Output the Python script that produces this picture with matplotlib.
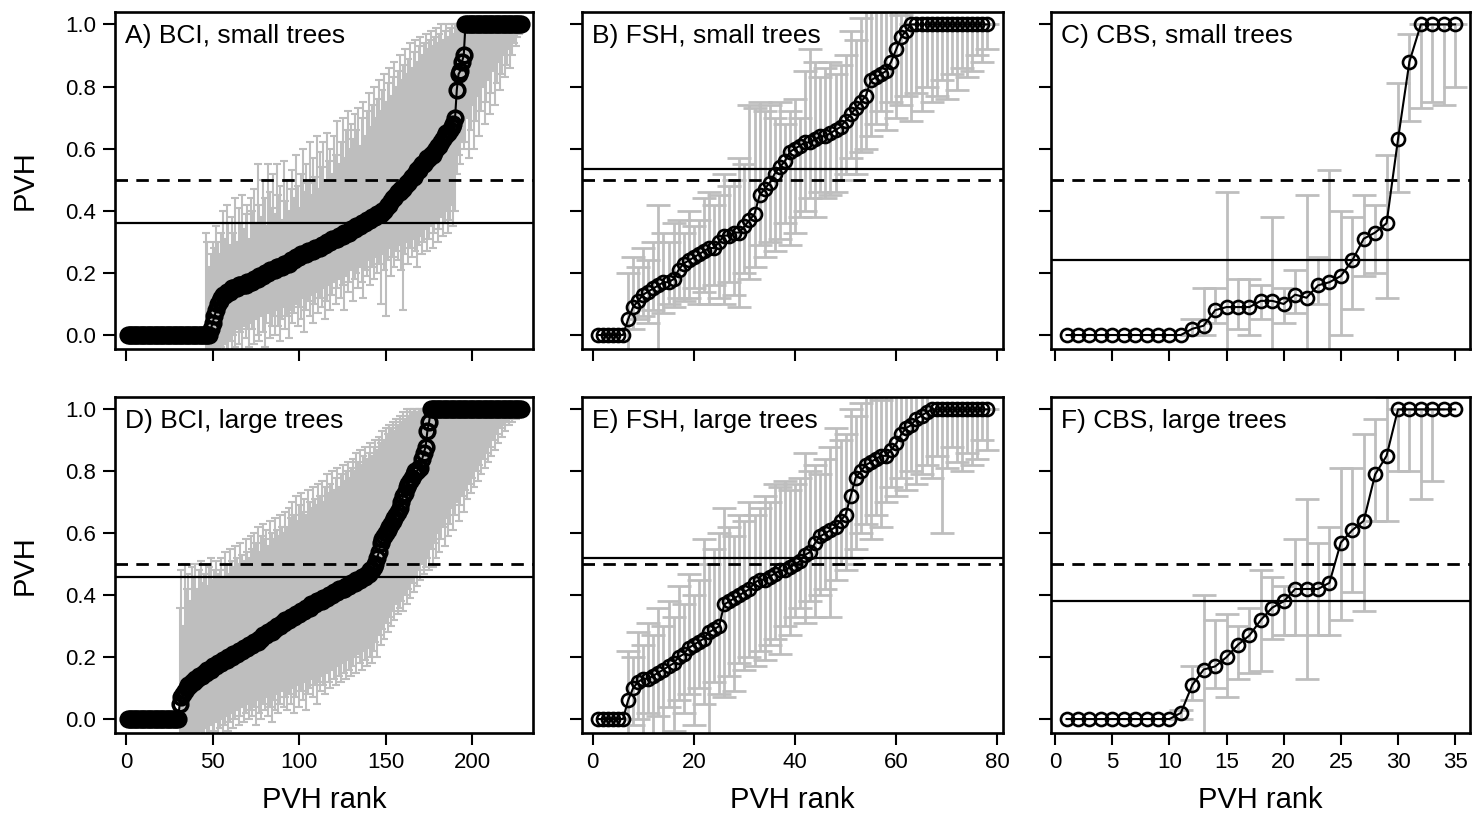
import matplotlib
matplotlib.use("Agg")
import matplotlib.pyplot as plt
import numpy as np

plt.rcParams['font.family'] = ['Liberation Sans', 'DejaVu Sans']

# ---------------- data ----------------
titles = ["A) BCI, small trees", "B) FSH, small trees", "C) CBS, small trees",
          "D) BCI, large trees", "E) FSH, large trees", "F) CBS, large trees"]
solid_lines = [0.36, 0.535, 0.24, 0.46, 0.52, 0.38]
dashed_lines = [0.5, 0.5, 0.5, 0.5, 0.5, 0.5]
x_ticks_bci = [0, 50, 100, 150, 200]
x_ticks_fsh = [0, 20, 40, 60, 80]
x_ticks_cbs = [0, 5, 10, 15, 20, 25, 30, 35]
y_ticks = [0.0, 0.2, 0.4, 0.6, 0.8, 1.0]

A_val = [
    0, 0, 0, 0, 0, 0, 0, 0, 0, 0, 0, 0,
    0, 0, 0, 0, 0, 0, 0, 0, 0, 0, 0, 0,
    0, 0, 0, 0, 0, 0, 0, 0, 0, 0, 0, 0,
    0, 0, 0, 0, 0, 0, 0, 0, 0, 0, 0, 0,
    0.02, 0.04, 0.06, 0.08, 0.10, 0.11, 0.12, 0.13, 0.13, 0.14, 0.14, 0.14,
    0.15, 0.15, 0.15, 0.15, 0.16, 0.16, 0.16, 0.16, 0.16, 0.17, 0.17, 0.17,
    0.17, 0.18, 0.18, 0.18, 0.19, 0.19, 0.19, 0.20, 0.20, 0.20, 0.21, 0.21, 0.21, 0.21, 0.22, 0.22, 0.22, 0.22, 0.23, 0.23,
    0.23, 0.23, 0.24, 0.24, 0.24, 0.25, 0.25, 0.25, 0.26, 0.26, 0.26, 0.26, 0.27, 0.27, 0.27, 0.27, 0.28, 0.28, 0.28,
    0.28, 0.29, 0.29, 0.29, 0.30, 0.30, 0.30, 0.31, 0.31, 0.31, 0.31, 0.32, 0.32, 0.32, 0.33, 0.33, 0.33, 0.33, 0.34,
    0.34, 0.34, 0.35, 0.35, 0.35, 0.36, 0.36, 0.36, 0.37, 0.37, 0.37, 0.38, 0.38, 0.38, 0.39, 0.39,
    0.39, 0.40, 0.40, 0.41, 0.42, 0.42, 0.43, 0.44, 0.44, 0.45, 0.46, 0.46, 0.47,
    0.47, 0.48, 0.49, 0.49, 0.50, 0.51, 0.51, 0.52, 0.53, 0.53,
    0.54, 0.55, 0.55, 0.56, 0.57, 0.57, 0.58,
    0.58, 0.59, 0.60, 0.61, 0.61, 0.62, 0.63, 0.64, 0.65, 0.65,
    0.66, 0.67, 0.68, 0.70,
    0.79, 0.84, 0.85, 0.88, 0.90,
    1, 1, 1, 1, 1, 1, 1, 1, 1, 1, 1,
    1, 1, 1, 1, 1, 1, 1, 1, 1, 1, 1,
    1, 1, 1, 1, 1, 1, 1, 1, 1, 1, 1,
]
A_hi = [
    0, 0, 0, 0, 0, 0, 0, 0, 0, 0, 0, 0, 0, 0, 0,
    0, 0, 0, 0, 0, 0, 0, 0, 0, 0, 0, 0, 0, 0, 0,
    0, 0, 0, 0, 0, 0, 0, 0, 0, 0, 0, 0, 0, 0, 0,
    0.33, 0.30, 0.22, 0.26, 0.30,
    0.28, 0.35, 0.30, 0.26, 0.33, 0.40, 0.31, 0.42, 0.36, 0.29,
    0.38, 0.33, 0.44, 0.30, 0.41, 0.36, 0.45, 0.34, 0.39, 0.42, 0.31, 0.44,
    0.40, 0.47, 0.36, 0.55, 0.42, 0.38, 0.50, 0.44, 0.35, 0.55, 0.46, 0.41,
    0.52, 0.39, 0.55, 0.45, 0.48, 0.37, 0.56, 0.43, 0.50, 0.40, 0.47, 0.53,
    0.44, 0.58, 0.48, 0.41, 0.52, 0.60, 0.46, 0.55, 0.49, 0.62, 0.45, 0.57,
    0.51, 0.64, 0.47, 0.59, 0.54, 0.62, 0.50, 0.65, 0.56, 0.60, 0.52, 0.64,
    0.58, 0.69, 0.55, 0.62, 0.70, 0.57, 0.66, 0.72, 0.60, 0.68, 0.63, 0.71,
    0.66, 0.73, 0.61, 0.70, 0.75, 0.64, 0.72, 0.78, 0.67, 0.74, 0.80, 0.70,
    0.76, 0.82, 0.72, 0.79, 0.84, 0.75, 0.81, 0.86, 0.77, 0.83, 0.88, 0.80,
    0.85, 0.90, 0.82, 0.87, 0.92, 0.84, 0.89, 0.94, 0.86, 0.91, 0.95, 0.88,
    0.93, 0.96, 0.90, 0.94, 0.97, 0.92, 0.95, 0.98, 0.93, 0.96, 0.99, 0.94,
    0.97, 1.00, 0.95, 0.98, 1.00, 0.96, 0.99, 1.00, 0.97, 1.00,
    1, 1, 1, 1, 1,
    1, 1, 1, 1, 1, 1, 1, 1, 1, 1, 1,
    1, 1, 1, 1, 1, 1, 1, 1, 1, 1, 1,
    1, 1, 1, 1, 1, 1, 1, 1, 1, 1, 1,
]
A_lo = [
    0, 0, 0, 0, 0, 0, 0, 0, 0, 0, 0, 0, 0, 0, 0,
    0, 0, 0, 0, 0, 0, 0, 0, 0, 0, 0, 0, 0, 0, 0,
    0, 0, 0, 0, 0, 0, 0, 0, 0, 0, 0, 0, 0, 0, 0,
    -0.10, -0.08, -0.12, -0.09, -0.10,
    -0.08, -0.05, -0.10, -0.06, -0.04, -0.09, -0.03, -0.07, -0.05, -0.02,
    -0.06, 0.00, -0.04, 0.02, -0.03, 0.01, -0.05, 0.03, -0.01, 0.02, -0.04, 0.04,
    0.02, -0.03, 0.05, 0.00, -0.02, 0.06, 0.01, -0.04, 0.04, 0.07, -0.01, 0.03,
    0.06, 0.00, 0.08, 0.03, -0.02, 0.05, 0.09, 0.02, 0.06, -0.01, 0.08, 0.04,
    0.07, 0.10, 0.03, 0.09, 0.05, 0.12, 0.01, 0.08, 0.11, 0.06, 0.13, 0.04,
    0.10, 0.14, 0.07, 0.12, 0.09, 0.15, 0.05, 0.11, 0.16, 0.08, 0.13, 0.17,
    0.10, 0.15, 0.18, 0.12, 0.16, 0.08, 0.19, 0.14, 0.17, 0.21, 0.11, 0.18,
    0.20, 0.15, 0.22, 0.17, 0.12, 0.21, 0.19, 0.24, 0.16, 0.22, 0.18, 0.25,
    0.20, 0.23, 0.10, 0.26, 0.21, 0.06, 0.24, 0.28, 0.19, 0.25, 0.22, 0.27,
    0.24, 0.29, 0.21, 0.08, 0.26, 0.30, 0.23, 0.28, 0.25, 0.31, 0.27, 0.22,
    0.29, 0.32, 0.26, 0.30, 0.34, 0.27, 0.31, 0.35, 0.28, 0.33, 0.36, 0.30,
    0.34, 0.38, 0.32, 0.36, 0.40, 0.33, 0.37, 0.42, 0.35, 0.40,
    0.52, 0.58, 0.55, 0.62, 0.60,
    0.62, 0.70, 0.57, 0.66, 0.74, 0.60, 0.69, 0.77, 0.64, 0.72, 0.80,
    0.68, 0.75, 0.82, 0.71, 0.78, 0.85, 0.74, 0.81, 0.88, 0.79, 0.84,
    0.90, 0.83, 0.87, 0.92, 0.86, 0.90, 0.94, 0.93, 0.96, 0.97, 0.99,
]

D_val = [
    0, 0, 0, 0, 0, 0, 0, 0, 0, 0, 0, 0, 0, 0, 0,
    0, 0, 0, 0, 0, 0, 0, 0, 0, 0, 0, 0, 0, 0, 0,
    0.05, 0.07, 0.08, 0.09, 0.10, 0.11, 0.11, 0.12,
    0.12, 0.13, 0.13, 0.14, 0.14, 0.14, 0.15, 0.15, 0.16, 0.16, 0.16, 0.17, 0.17, 0.17, 0.18,
    0.18, 0.18, 0.19, 0.19, 0.19, 0.20, 0.20, 0.20, 0.21, 0.21, 0.21, 0.22, 0.22, 0.22, 0.23, 0.23, 0.23, 0.24, 0.24,
    0.24, 0.25, 0.25, 0.25, 0.26, 0.26, 0.27, 0.27, 0.27, 0.28, 0.28, 0.28, 0.29, 0.29, 0.30, 0.30, 0.30, 0.31, 0.31, 0.32,
    0.32, 0.32, 0.33, 0.33, 0.33, 0.34, 0.34, 0.34, 0.35, 0.35, 0.35, 0.36, 0.36, 0.36, 0.37, 0.37, 0.37, 0.38, 0.38,
    0.38, 0.38, 0.39, 0.39, 0.39, 0.40, 0.40, 0.40, 0.41, 0.41, 0.41, 0.42, 0.42, 0.42, 0.42, 0.43, 0.43, 0.43, 0.44,
    0.44, 0.44, 0.45, 0.45, 0.45, 0.46, 0.46, 0.46, 0.47, 0.47, 0.48, 0.48,
    0.49, 0.50, 0.52, 0.54, 0.57, 0.58, 0.59, 0.60, 0.61, 0.62,
    0.63, 0.64, 0.65, 0.66, 0.67, 0.68, 0.70, 0.72, 0.73, 0.75, 0.76,
    0.77, 0.78, 0.79, 0.80, 0.80, 0.81, 0.81, 0.84, 0.86, 0.88, 0.93, 0.96,
    1, 1, 1, 1, 1, 1, 1, 1, 1, 1, 1, 1, 1, 1, 1, 1, 1, 1,
    1, 1, 1, 1, 1, 1, 1, 1, 1, 1, 1, 1, 1, 1, 1, 1, 1, 1,
    1, 1, 1, 1, 1, 1, 1, 1, 1, 1, 1, 1, 1, 1, 1, 1, 1,
]
D_hi = [
    0, 0, 0, 0, 0, 0, 0, 0, 0, 0, 0, 0, 0, 0, 0,
    0, 0, 0, 0, 0, 0, 0, 0, 0, 0, 0, 0, 0, 0, 0,
    0.36, 0.48, 0.30, 0.50, 0.42, 0.47, 0.38, 0.49,
    0.46, 0.50, 0.42, 0.48, 0.51, 0.44, 0.47, 0.50, 0.43, 0.49, 0.52, 0.45, 0.48, 0.51, 0.47,
    0.48, 0.52, 0.46, 0.54, 0.50, 0.47, 0.55, 0.51, 0.49, 0.56, 0.52, 0.50, 0.57, 0.53, 0.51, 0.58, 0.54, 0.52, 0.59,
    0.55, 0.60, 0.57, 0.62, 0.54, 0.59, 0.63, 0.58, 0.61, 0.56, 0.64, 0.60, 0.58, 0.65, 0.61, 0.59, 0.66, 0.62, 0.60, 0.67,
    0.62, 0.68, 0.65, 0.70, 0.66, 0.72, 0.64, 0.69, 0.73, 0.67, 0.71, 0.66, 0.74, 0.70, 0.68, 0.75, 0.71, 0.69, 0.76,
    0.72, 0.77, 0.70, 0.75, 0.79, 0.73, 0.76, 0.80, 0.74, 0.78, 0.81, 0.75, 0.79, 0.82, 0.77, 0.80, 0.83, 0.78, 0.81,
    0.84, 0.80, 0.86, 0.83, 0.87, 0.82, 0.85, 0.88, 0.84, 0.86, 0.89, 0.85,
    0.88, 0.90, 0.87, 0.91, 0.89, 0.93, 0.90, 0.94, 0.92, 0.95,
    0.94, 0.96, 0.93, 0.97, 0.95, 0.98, 0.96, 0.99, 0.97, 1.00, 0.98,
    1.00, 0.99, 1.00, 1.00, 0.99, 1.00, 1.00, 1.00, 1.00, 1.00, 1.00, 1.00,
    1, 1, 1, 1, 1, 1, 1, 1, 1, 1, 1, 1, 1, 1, 1, 1, 1, 1,
    1, 1, 1, 1, 1, 1, 1, 1, 1, 1, 1, 1, 1, 1, 1, 1, 1, 1,
    1, 1, 1, 1, 1, 1, 1, 1, 1, 1, 1, 1, 1, 1, 1, 1, 1,
]
D_lo = [
    0, 0, 0, 0, 0, 0, 0, 0, 0, 0, 0, 0, 0, 0, 0,
    0, 0, 0, 0, 0, 0, 0, 0, 0, 0, 0, 0, 0, 0, 0,
    -0.10, -0.08, -0.12, -0.06, -0.09, -0.11, -0.07, -0.10,
    -0.08, -0.05, -0.10, -0.07, -0.04, -0.09, -0.06, -0.03, -0.08, -0.05, -0.02, -0.07, -0.04, -0.01, -0.06,
    -0.03, 0.00, -0.05, -0.02, 0.01, -0.04, -0.01, 0.02, -0.03, 0.00, 0.03, -0.02, 0.01, 0.04, -0.01, 0.02, 0.05, 0.00, 0.03,
    0.01, 0.04, -0.02, 0.06, 0.02, 0.00, 0.05, 0.03, 0.07, 0.01, 0.04, -0.01, 0.06, 0.03, 0.08, 0.02, 0.05, 0.09, 0.04, 0.07,
    0.03, 0.08, 0.05, 0.10, 0.02, 0.07, 0.11, 0.04, 0.09, 0.06, 0.12, 0.03, 0.08, 0.10, 0.13, 0.07, 0.11, 0.05, 0.12,
    0.09, 0.14, 0.11, 0.08, 0.15, 0.12, 0.10, 0.16, 0.13, 0.11, 0.17, 0.14, 0.12, 0.18, 0.15, 0.13, 0.19, 0.16, 0.14,
    0.17, 0.20, 0.15, 0.21, 0.18, 0.16, 0.22, 0.19, 0.17, 0.23, 0.20, 0.18,
    0.22, 0.25, 0.20, 0.27, 0.24, 0.29, 0.26, 0.31, 0.28, 0.33,
    0.30, 0.35, 0.32, 0.37, 0.34, 0.36, 0.38, 0.35, 0.40, 0.37, 0.42,
    0.39, 0.44, 0.41, 0.46, 0.43, 0.48, 0.45, 0.50, 0.47, 0.49, 0.52, 0.48,
    0.55, 0.49, 0.57, 0.52, 0.60, 0.54, 0.58, 0.62, 0.56, 0.65,
    0.59, 0.63, 0.68, 0.61, 0.66, 0.70, 0.64, 0.69, 0.72, 0.67,
    0.74, 0.71, 0.76, 0.73, 0.78, 0.75, 0.80, 0.77, 0.82, 0.79,
    0.84, 0.81, 0.86, 0.83, 0.88, 0.85, 0.90, 0.87, 0.92, 0.89,
    0.94, 0.91, 0.95, 0.93, 0.96, 0.95, 0.97, 0.96, 0.98, 0.97,
    0.99, 0.98, 0.99,
]

B_val = [
    0, 0, 0, 0, 0, 0,
    0.05, 0.09, 0.11, 0.13, 0.14, 0.15, 0.16, 0.17, 0.17, 0.18,
    0.21, 0.23, 0.24, 0.25, 0.26, 0.27, 0.28, 0.28, 0.30, 0.32,
    0.32, 0.33, 0.33, 0.35, 0.37, 0.39, 0.45, 0.47, 0.49, 0.52,
    0.54, 0.56, 0.59, 0.60, 0.61, 0.62, 0.62, 0.63, 0.64, 0.64,
    0.65, 0.66, 0.67, 0.69, 0.71, 0.73, 0.75, 0.77, 0.82, 0.83,
    0.84, 0.85, 0.88, 0.92, 0.96, 0.98,
    1, 1, 1, 1, 1, 1, 1, 1, 1, 1, 1, 1, 1, 1, 1, 1,
]
B_hi = [
    0, 0, 0, 0, 0, 0,
    0.20, 0.25, 0.22, 0.28, 0.24, 0.30, 0.42, 0.33, 0.30, 0.36,
    0.37, 0.33, 0.40, 0.35, 0.37, 0.44, 0.46, 0.42, 0.45, 0.52,
    0.48, 0.50, 0.57, 0.55, 0.74, 0.73, 0.75, 0.72, 0.74, 0.70,
    0.75, 0.68, 0.72, 0.76, 0.70, 0.85, 0.92, 0.88, 0.83, 0.86,
    0.88, 0.84, 0.87, 0.90, 0.98, 0.95, 1.02, 1.05, 1.06, 1.04,
    1.06, 1.05, 1.06, 1.05, 1.03, 1.05,
    1, 1, 1, 1, 1, 1, 1, 1, 1, 1, 1, 1, 1, 1, 1, 1,
]
B_lo = [
    0, 0, 0, 0, 0, 0,
    -0.05, 0.02, 0.05, 0.06, 0.04, 0.08, -0.06, 0.07, 0.10, 0.09,
    0.12, 0.11, 0.12, 0.15, 0.10, 0.14, 0.10, 0.16, 0.12, 0.10,
    0.17, 0.13, 0.09, 0.20, 0.18, 0.22, 0.29, 0.25, 0.30, 0.27,
    0.31, 0.36, 0.29, 0.33, 0.38, 0.40, 0.44, 0.38, 0.46, 0.44,
    0.45, 0.46, 0.50, 0.52, 0.57, 0.52, 0.59, 0.60, 0.64, 0.68,
    0.72, 0.66, 0.75, 0.70, 0.74, 0.77,
    0.69, 0.78, 0.72, 0.80, 0.75, 0.77, 0.82, 0.76, 0.84, 0.79, 0.86, 0.83, 0.85, 0.90, 0.88, 0.92,
]

C_val = [0, 0, 0, 0, 0, 0, 0, 0, 0, 0, 0,
         0.02, 0.03, 0.08, 0.09, 0.09, 0.09, 0.11, 0.11, 0.10, 0.13,
         0.12, 0.16, 0.17, 0.19, 0.24, 0.31, 0.33, 0.36, 0.63, 0.88,
         1, 1, 1, 1]
C_hi = [0, 0, 0, 0, 0, 0, 0, 0, 0, 0, 0,
        0.05, 0.15, 0.15, 0.46, 0.18, 0.18, 0.16, 0.38, 0.15, 0.21,
        0.45, 0.25, 0.53, 0.40, 0.38, 0.45, 0.42, 0.58, 0.81, 0.97,
        1, 1, 1, 1]
C_lo = [0, 0, 0, 0, 0, 0, 0, 0, 0, 0, 0,
        0.00, 0.00, 0.04, -0.10, 0.02, 0.00, 0.05, -0.10, 0.04, 0.07,
        -0.10, 0.10, -0.10, 0.00, 0.085, 0.19, 0.20, 0.12, 0.46, 0.69,
        0.73, 0.75, 0.74, 0.80]

E_val = [
    0, 0, 0, 0, 0, 0,
    0.06, 0.10, 0.12, 0.13, 0.13, 0.14, 0.15, 0.16, 0.17, 0.18,
    0.20, 0.21, 0.23, 0.24, 0.25, 0.26, 0.28, 0.29, 0.30, 0.37,
    0.38, 0.39, 0.40, 0.41, 0.42, 0.44, 0.45, 0.45, 0.46, 0.47,
    0.48, 0.48, 0.49, 0.50, 0.51, 0.53, 0.54, 0.57, 0.59, 0.60,
    0.61, 0.62, 0.64, 0.66, 0.72, 0.78, 0.80, 0.82, 0.83, 0.84,
    0.85, 0.85, 0.87, 0.89, 0.92, 0.94, 0.95, 0.97, 0.98, 0.99,
    1, 1, 1, 1, 1, 1, 1, 1, 1, 1, 1, 1,
]
E_hi = [
    0, 0, 0, 0, 0, 0,
    0.22, 0.20, 0.28, 0.24, 0.31, 0.27, 0.36, 0.30, 0.38, 0.33,
    0.43, 0.37, 0.47, 0.40, 0.45, 0.58, 0.50, 0.55, 0.60, 0.68,
    0.62, 0.59, 0.66, 0.64, 0.70, 0.66, 0.68, 0.72, 0.70, 0.76,
    0.75, 0.77, 0.74, 0.76, 0.78, 0.86, 0.80, 0.82, 0.79, 0.84,
    0.88, 0.94, 0.90, 0.92, 1.00, 0.98, 1.02, 1.05, 1.04, 1.05,
    1.03, 1.05, 1.06, 1.05, 1.06, 1.05, 1.04, 1.05, 1.06, 1.05,
    1, 1, 1, 1, 1, 1, 1, 1, 1, 1, 1, 1,
]
E_lo = [
    0, 0, 0, 0, 0, 0,
    -0.08, -0.02, 0.00, -0.06, 0.02, -0.05, 0.01, -0.08, 0.04, -0.04,
    0.06, 0.02, 0.08, -0.02, 0.10, 0.05, -0.06, 0.12, 0.08, 0.07,
    0.14, 0.09, 0.18, 0.16, 0.20, 0.17, 0.22, 0.19, 0.24, 0.26,
    0.21, 0.30, 0.27, 0.33, 0.36, 0.31, 0.38, 0.33, 0.40, 0.42,
    0.33, 0.45, 0.50, 0.48, 0.52, 0.55, 0.60, 0.63, 0.58, 0.66,
    0.62, 0.70, 0.75, 0.72, 0.78, 0.74, 0.80, 0.76, 0.79, 0.82,
    0.78, 0.85, 0.60, 0.81, 0.88, 0.83, 0.80, 0.86, 0.82, 0.84, 0.90, 0.87,
]

F_val = [0, 0, 0, 0, 0, 0, 0, 0, 0, 0,
         0.02, 0.11, 0.16, 0.17, 0.20, 0.24, 0.27, 0.32, 0.36, 0.38,
         0.42, 0.42, 0.42, 0.44, 0.57, 0.61, 0.64, 0.79, 0.85,
         1, 1, 1, 1, 1, 1]
F_hi = [0, 0, 0, 0, 0, 0, 0, 0, 0, 0,
        0.03, 0.17, 0.40, 0.32, 0.34, 0.30, 0.36, 0.48, 0.46, 0.43,
        0.58, 0.71, 0.57, 0.62, 0.81, 0.81, 0.92, 0.97, 1.04,
        1, 1, 1, 1, 1, 1]
F_lo = [0, 0, 0, 0, 0, 0, 0, 0, 0, 0,
        0.00, 0.06, -0.10, 0.10, 0.07, 0.13, 0.15, 0.155, 0.26, 0.27,
        0.27, 0.13, 0.27, 0.27, 0.32, 0.41, 0.35, 0.64, 0.64,
        0.80, 0.80, 0.71, 0.77, 1.0, 1.0]

series = [(A_val, A_lo, A_hi), (B_val, B_lo, B_hi), (C_val, C_lo, C_hi),
          (D_val, D_lo, D_hi), (E_val, E_lo, E_hi), (F_val, F_lo, F_hi)]
for name, (v, lo, hi) in zip("ABCDEF", series):
    if not (len(v) == len(lo) == len(hi)):
        raise SystemExit(f"length mismatch {name}: {len(v)} {len(lo)} {len(hi)}")

# ---------------- layout ----------------
W, H = 1476, 821
col_l = [115, 582, 1051]
col_r = [533, 1003, 1470]
row_t = [12, 397]
row_b = [349, 733]
xlims = [(-6.4, 235.0), (-2.1, 81.1), (-0.36, 36.3)]
xticks_list = [x_ticks_bci, x_ticks_fsh, x_ticks_cbs]

GRAY = '#BEBEBE'
fig = plt.figure(figsize=(W / 100, H / 100), dpi=100)

for i in range(6):
    r, c = divmod(i, 3)
    l, rr, t, b = col_l[c], col_r[c], row_t[r], row_b[r]
    ax = fig.add_axes([l / W, 1 - b / H, (rr - l) / W, (b - t) / H])
    v, lo, hi = (np.asarray(a, dtype=float) for a in series[i])
    x = np.arange(1, len(v) + 1)
    m = hi > lo
    dense = (c == 0)
    ax.errorbar(x[m], v[m], yerr=[np.clip(v[m] - lo[m], 0, None), np.clip(hi[m] - v[m], 0, None)],
                fmt='none', ecolor=GRAY,
                elinewidth=1.5 if dense else 2.0,
                capsize=2.6 if dense else 8.6,
                capthick=1.5 if dense else 2.0, zorder=1)
    ax.plot(x, v, '-', color='black', lw=1.5, zorder=2)
    ax.plot(x, v, 'o', mfc='none', mec='black',
            ms=10.5 if dense else 9.4, mew=2.6 if dense else 1.9, zorder=3)
    ax.axhline(solid_lines[i], color='black', lw=1.6, zorder=4)
    ax.axhline(dashed_lines[i], color='black', lw=2.0, ls=(0, (4.5, 3.0)), zorder=4)

    ax.set_xlim(*xlims[c])
    ax.set_ylim(-0.045, 1.04)
    ax.set_xticks(xticks_list[c])
    ax.set_yticks(y_ticks)
    ax.set_yticklabels([f"{t:.1f}" for t in y_ticks])
    ax.tick_params(direction='out', length=8.6, width=1.5, labelsize=16, pad=5)
    ax.tick_params(labelbottom=(r == 1), labelleft=(c == 0))
    for s in ax.spines.values():
        s.set_linewidth(1.9)
    ax.text(10 / (rr - l), 1 - 31 / (b - t), titles[i], transform=ax.transAxes,
            fontsize=19, ha='left', va='baseline')

for r in range(2):
    yc = 1 - (row_t[r] + row_b[r]) / 2 / H
    fig.text(25 / W, yc, "PVH", rotation=90, fontsize=21, ha='center', va='center')
for c in range(3):
    xc = (col_l[c] + col_r[c]) / 2 / W
    fig.text(xc, 1 - 800 / H, "PVH rank", fontsize=21, ha='center', va='center')

fig.savefig("out.png", dpi=100)
